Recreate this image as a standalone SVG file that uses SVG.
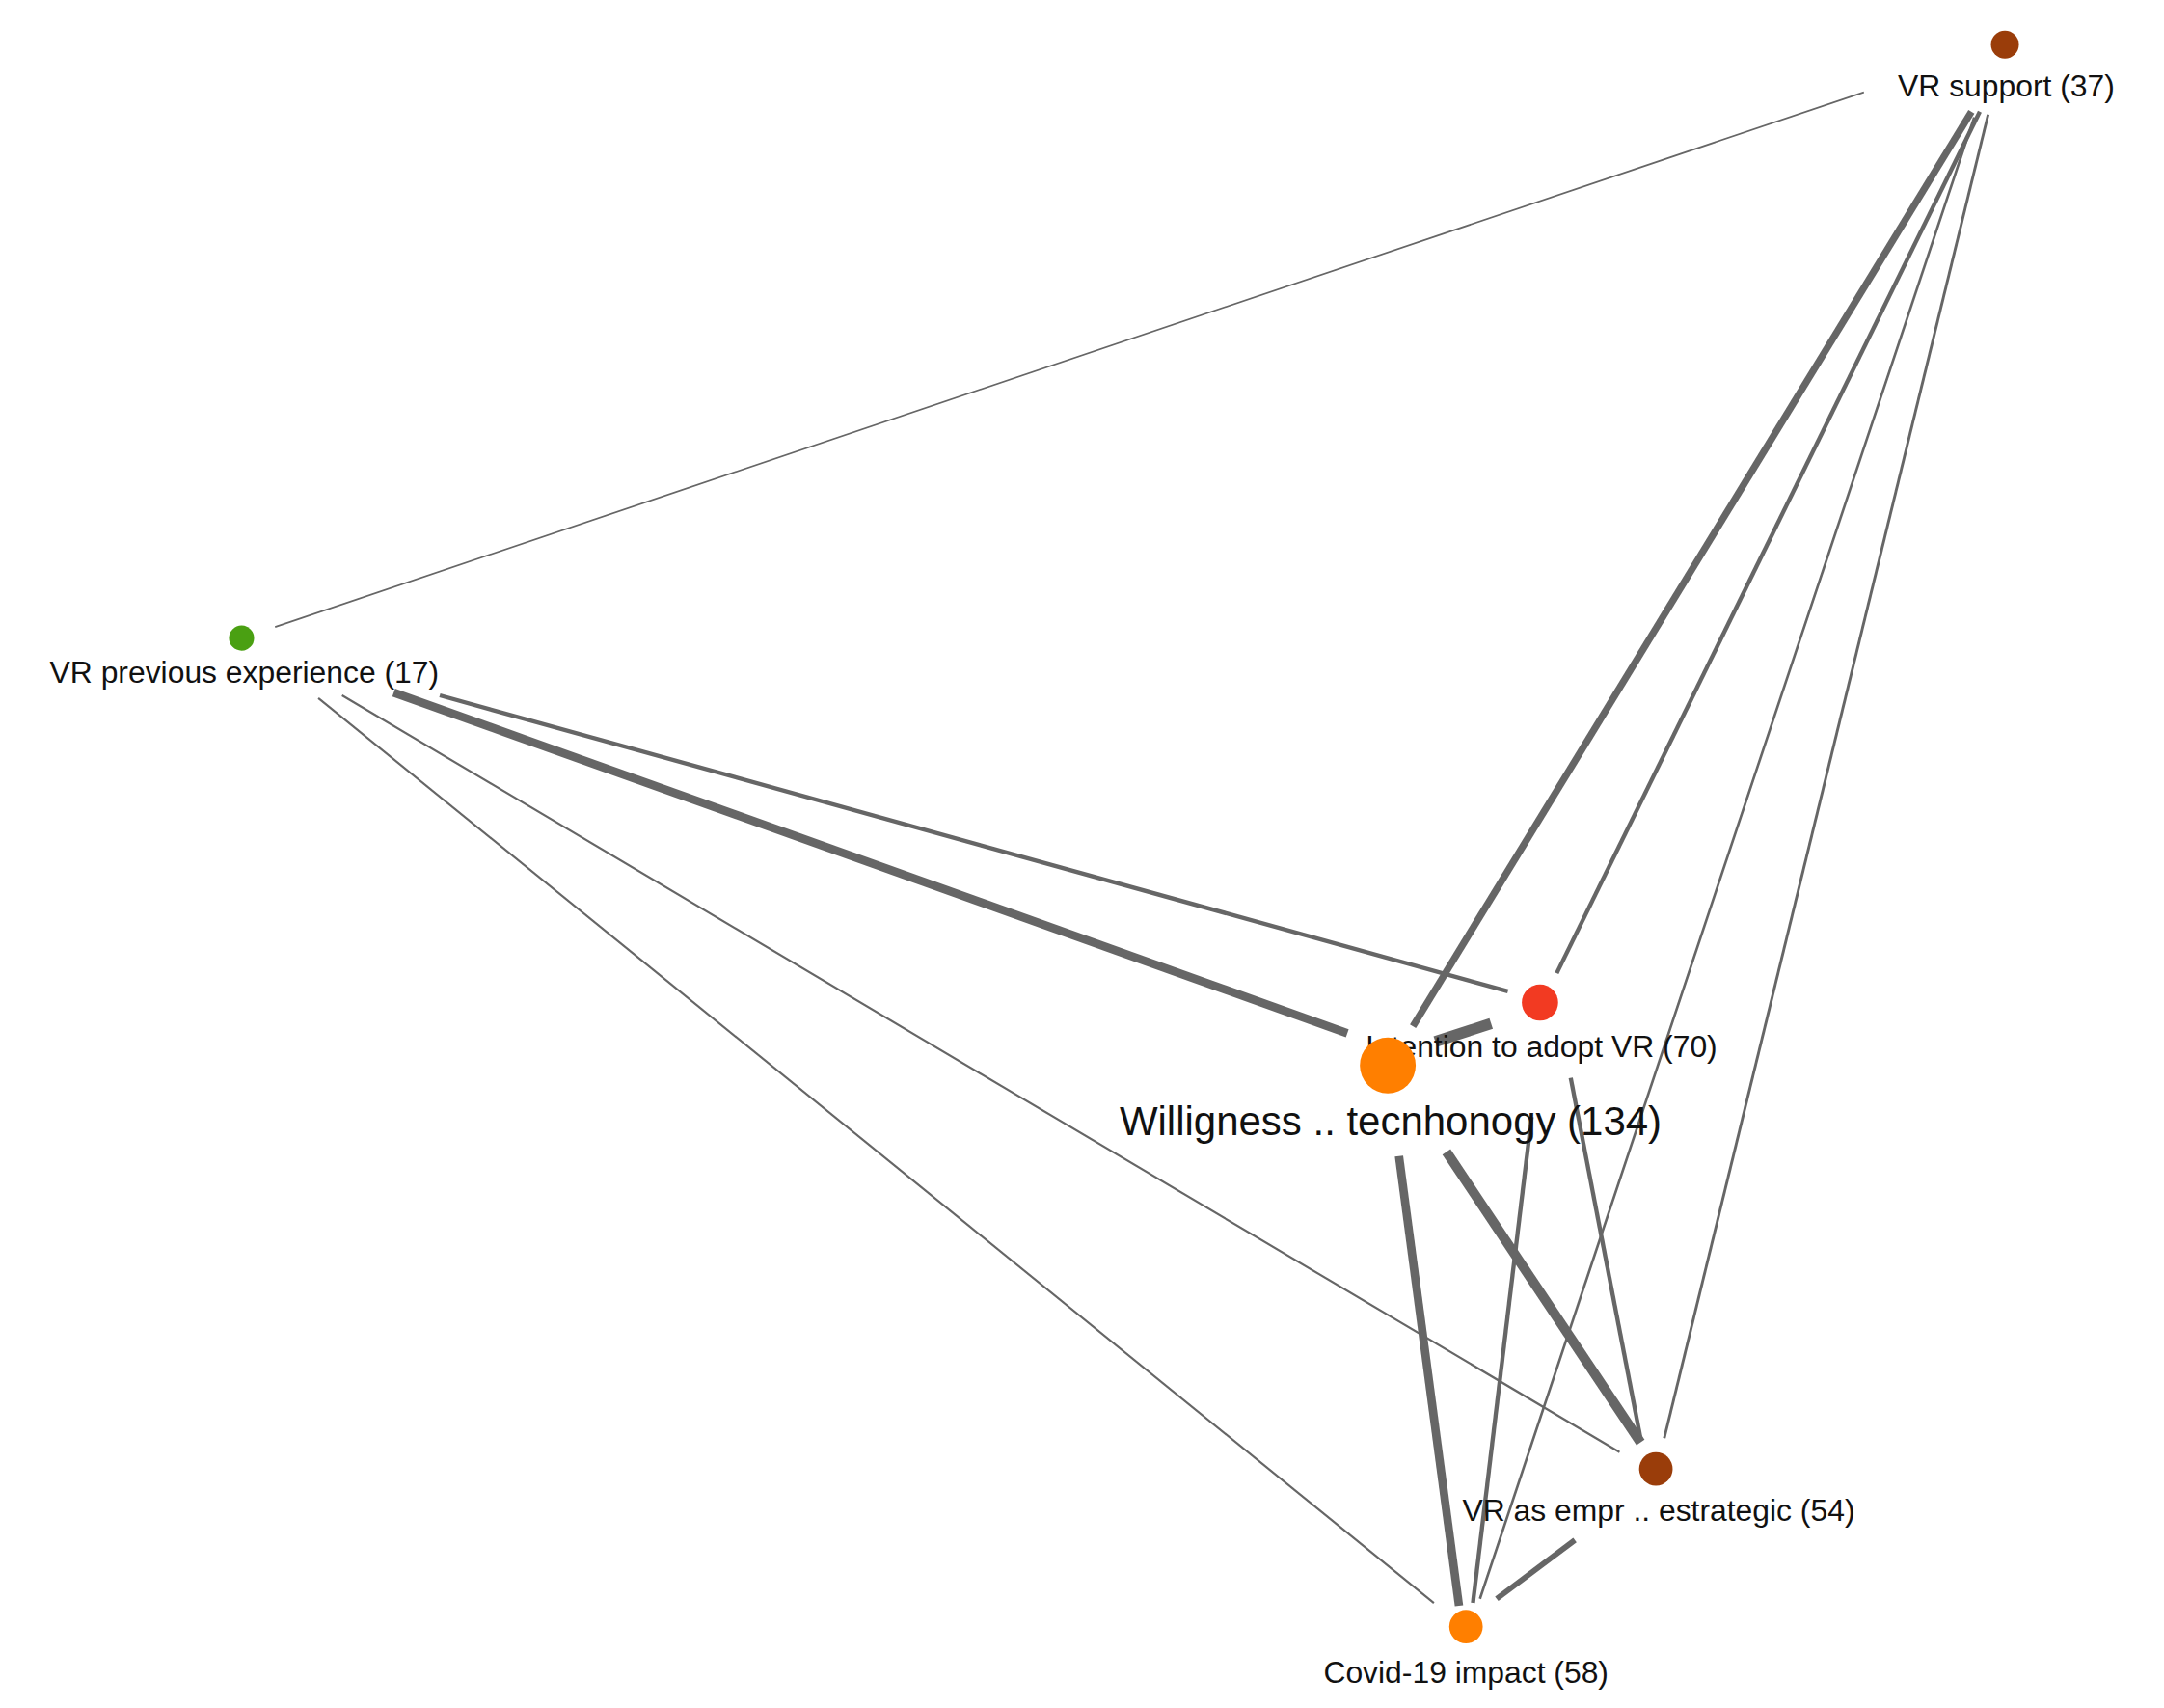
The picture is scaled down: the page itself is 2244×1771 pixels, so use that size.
<svg xmlns="http://www.w3.org/2000/svg" width="2244" height="1771" viewBox="0 0 2244 1771">
<style>
.e{stroke:#666;stroke-linecap:butt;fill:none}
text{font-family:"Liberation Sans",Arial,sans-serif;font-size:22px;fill:#111;text-anchor:middle}
.big{font-size:29px}
</style>
<rect width="2244" height="1771" fill="#fff"/>
<g transform="scale(1.4478)">
<g id="connectors">
<line class="e" x1="197" y1="449" x2="1335" y2="66" stroke-width="1.2"/>
<line class="e" x1="1412" y1="80" x2="1012" y2="735" stroke-width="5"/>
<line class="e" x1="1418" y1="80" x2="1115" y2="697" stroke-width="3"/>
<line class="e" x1="1424" y1="82" x2="1192" y2="1030" stroke-width="2"/>
<line class="e" x1="1414" y1="84" x2="1060" y2="1145" stroke-width="1.8"/>
<line class="e" x1="282" y1="496" x2="965" y2="740" stroke-width="6"/>
<line class="e" x1="315" y1="498" x2="1080" y2="710" stroke-width="3"/>
<line class="e" x1="245" y1="498" x2="1160" y2="1040" stroke-width="1.5"/>
<line class="e" x1="228" y1="500" x2="1027" y2="1148" stroke-width="1.5"/>
<line class="e" x1="1028" y1="746" x2="1068" y2="733" stroke-width="8"/>
<line class="e" x1="1036" y1="825" x2="1175" y2="1033" stroke-width="7"/>
<line class="e" x1="1002" y1="828" x2="1045" y2="1150" stroke-width="6"/>
<line class="e" x1="1097" y1="800" x2="1055" y2="1148" stroke-width="3"/>
<line class="e" x1="1125" y1="772" x2="1175" y2="1030" stroke-width="3"/>
<line class="e" x1="1128" y1="1103" x2="1072" y2="1145" stroke-width="4"/>
</g>
<g id="vr-support"><circle cx="1436" cy="32" r="10" fill="#9a3d0a"/><text x="1437" y="69">VR support (37)</text></g>
<g id="vr-previous"><circle cx="173" cy="457" r="9" fill="#4aa012"/><text x="175" y="489">VR previous experience (17)</text></g>
<g id="intention"><circle cx="1103" cy="718" r="13" fill="#f23a22"/><text x="1104" y="757">Intention to adopt VR (70)</text></g>
<g id="willigness"><circle cx="994" cy="763" r="20" fill="#ff7f00"/><text class="big" x="996" y="813">Willigness .. tecnhonogy (134)</text></g>
<g id="vr-empr"><circle cx="1186" cy="1052" r="12" fill="#9a3d0a"/><text x="1188" y="1089">VR as empr .. estrategic (54)</text></g>
<g id="covid"><circle cx="1050" cy="1165" r="12" fill="#ff7f00"/><text x="1050" y="1205">Covid-19 impact (58)</text></g>
</g>
</svg>
